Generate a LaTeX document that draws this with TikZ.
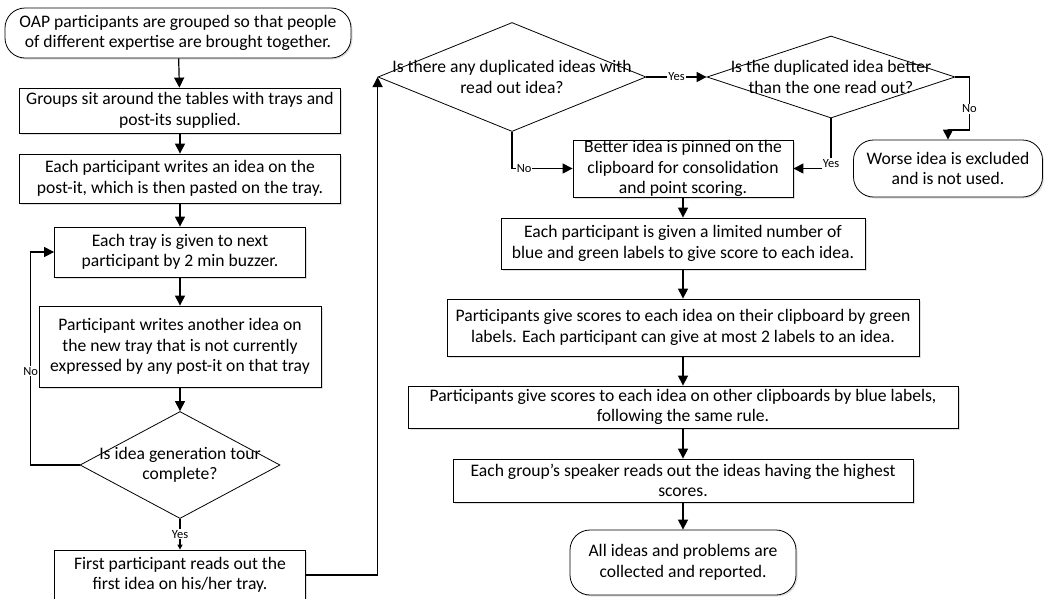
\documentclass[tikz,border=0pt]{standalone}
\usepackage{fontspec}
\setmainfont{Carlito}
\usetikzlibrary{shapes.geometric,arrows.meta,shadows}

\begin{document}
\begin{tikzpicture}[x=1pt,y=-1pt,
  box/.style={draw,line width=0.8pt,fill=white,align=center,inner sep=0pt,
    font=\fontsize{17.6}{20.5}\selectfont,
    drop shadow={shadow xshift=1.5pt,shadow yshift=-1.5pt,opacity=0.25}},
  term/.style={box,rounded corners=20pt},
  decision/.style={draw,line width=0.8pt,fill=white,diamond,inner sep=0pt},
  dtext/.style={align=center,font=\fontsize{17.6}{20.5}\selectfont},
  conn/.style={line width=1.2pt,-{Triangle[length=10pt,width=10pt]}},
  lbl/.style={fill=white,inner sep=1pt,font=\fontsize{12.5}{14}\selectfont}]

\useasboundingbox (0,0) rectangle (1044,598);

% 左列
\node[term,minimum width=346pt,minimum height=50pt] (start) at (178,33)
  {OAP participants are grouped so that people\\of different expertise are brought together.};
\node[box,minimum width=321pt,minimum height=45pt] (sit) at (180,110.5)
  {Groups sit around the tables with trays and\\post-its supplied.};
\node[box,minimum width=321pt,minimum height=49pt] (write) at (180,178.5)
  {Each participant writes an idea on the\\post-it, which is then pasted on the tray.};
\node[box,minimum width=251pt,minimum height=50pt] (tray) at (180,252)
  {Each tray is given to next\\participant by 2 min buzzer.};
\node[box,minimum width=282pt,minimum height=81pt] (another) at (180,346.5)
  {Participant writes another idea on\\the new tray that is not currently\\expressed by any post-it on that tray};
\node[decision,minimum width=200pt,minimum height=107pt,
  label={[dtext]center:Is idea generation tour\\complete?}] (tour) at (180,465) {};
\node[box,minimum width=251pt,minimum height=50pt] (first) at (180,575)
  {First participant reads out the\\first idea on his/her tray.};

% 右列
\node[decision,minimum width=268pt,minimum height=109pt,
  label={[dtext]center:Is there any duplicated ideas with\\read out idea?}] (dup) at (512,77) {};
\node[decision,minimum width=248pt,minimum height=82pt,
  label={[dtext]center:Is the duplicated idea better\\than the one read out?}] (better) at (831,77) {};
\node[term,minimum width=189pt,minimum height=57pt] (worse) at (948,168.5)
  {Worse idea is excluded\\and is not used.};
\node[box,minimum width=220pt,minimum height=57pt] (pinned) at (683,168.5)
  {Better idea is pinned on the\\clipboard for consolidation\\and point scoring.};
\node[box,minimum width=364pt,minimum height=51pt] (given) at (683,243.5)
  {Each participant is given a limited number of\\blue and green labels to give score to each idea.};
\node[box,minimum width=472pt,minimum height=57pt] (green) at (683,327.5)
  {Participants give scores to each idea on their clipboard by green\\labels. Each participant can give at most 2 labels to an idea.};
\node[box,minimum width=550pt,minimum height=42pt] (blue) at (683,407)
  {Participants give scores to each idea on other clipboards by blue labels,\\following the same rule.};
\node[box,minimum width=460pt,minimum height=43pt] (speaker) at (683,480.5)
  {Each group’s speaker reads out the ideas having the highest\\scores.};
\node[term,minimum width=226pt,minimum height=65pt] (done) at (683,562.5)
  {All ideas and problems are\\collected and reported.};

% 连线
\draw[conn] (start) -- (sit);
\draw[conn] (sit) -- (write);
\draw[conn] (write) -- (tray);
\draw[conn] (tray) -- (another);
\draw[conn] (another) -- (tour);
\draw[conn] (tour.west) -- ++(-49,0) coordinate (loopA)
  -- node[lbl,pos=0.44] {No} (loopA |- tray.west) -- (tray.west);
\draw[line width=1.2pt,-{Triangle[length=5pt,width=5pt]}] (tour.south) -- node[lbl] {Yes} (first.north);
\draw[conn] (first.east) -| (dup.west);
\draw[conn] (dup.east) -- node[lbl] {Yes} (better.west);
\draw[conn] (dup.south) |- node[lbl,pos=0.6] {No} (pinned.west);
\draw[conn] (better.east) -| node[lbl,pos=0.8] {No} ++(14,53) -| (worse.north);
\draw[conn] (better.south) |- node[lbl,pos=0.45] {Yes} (pinned.east);
\draw[conn] (pinned) -- (given);
\draw[conn] (given) -- (green);
\draw[conn] (green) -- (blue);
\draw[conn] (blue) -- (speaker);
\draw[conn] (speaker) -- (done);

\end{tikzpicture}
\end{document}
